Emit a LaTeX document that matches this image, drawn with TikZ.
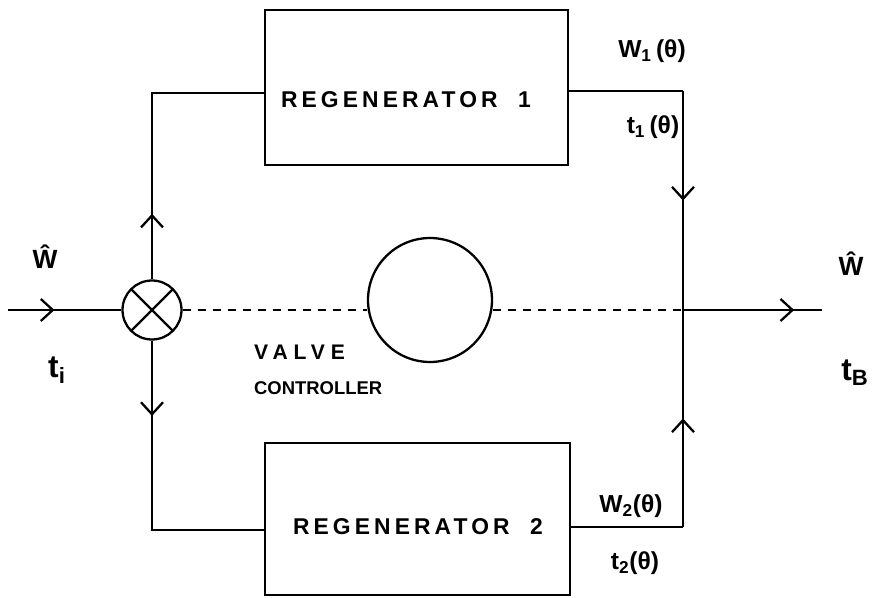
\documentclass[tikz,border=0pt]{standalone}
\usepackage{fontspec}
\setmainfont{Liberation Sans}
\newfontfamily\widefont[LetterSpace=18]{Liberation Sans}
\newfontfamily\widerfont[LetterSpace=28]{Liberation Sans}
\usetikzlibrary{positioning,arrows.meta,decorations.markings}

\tikzset{
  regbox/.style={draw, minimum width=6.06cm, minimum height=3.1cm},
  regtext/.style={font=\widefont\bfseries\fontsize{13}{15}\selectfont, inner sep=0pt},
  sumnode/.style={draw, circle, minimum size=1.18cm, inner sep=0pt,
    path picture={\draw (path picture bounding box.north west) -- (path picture bounding box.south east)
      (path picture bounding box.north east) -- (path picture bounding box.south west);}},
  valvenode/.style={draw, circle, minimum size=2.48cm, inner sep=0pt},
  ctrl/.style={dash pattern=on 0.16cm off 0.14cm},
  flowmark/.style={postaction={decorate}, decoration={markings,
    mark=at position #1 with {\arrow{Straight Barb[length=2.4mm,width=4.4mm]}}}},
  lbl/.style={font=\bfseries\fontsize{14}{16}\selectfont, inner sep=0pt},
  biglbl/.style={font=\bfseries\fontsize{18}{20}\selectfont, inner sep=0pt}
}

\begin{document}
\begin{tikzpicture}[x=0.02cm, y=-0.02cm, line width=1.3pt]
  \useasboundingbox (0,0) rectangle (877,598);

  % blocks
  \node[regbox] (reg1) at (416.5,87.5) {};
  \node[regbox, minimum width=6.1cm, minimum height=3.04cm] (reg2) at (417.5,519) {};
  \node[regtext] (reg1txt) at (406,99.5) {REGENERATOR\hspace{0.9em}1};
  \node[regtext] (reg2txt) at (418,527) {REGENERATOR\hspace{0.9em}2};
  \node[sumnode] (sum) at (152,310) {};
  \node[valvenode] (valve) at (430,300) {};

  % junction points
  \coordinate (in) at (8,310);
  \coordinate (up) at (152,93);
  \coordinate (down) at (152,530);
  \coordinate (j1) at (683,91);
  \coordinate (j2) at (683,527);
  \coordinate (merge) at (683,310);
  \coordinate (out) at (822,310);

  % flow lines
  \draw[flowmark=0.41] (in) -- (sum.west);
  \draw[flowmark=0.22] (sum.north) -- (up) -- (reg1.west |- up);
  \draw[flowmark=0.25] (sum.south) -- (down) -- (reg2.west |- down);
  \draw (reg1.east |- j1) -- (j1);
  \draw[flowmark=0.5] (j1) -- (merge);
  \draw (reg2.east |- j2) -- (j2);
  \draw[flowmark=0.5] (j2) -- (merge);
  \draw[flowmark=0.8] (merge) -- (out);

  % control signal
  \draw[ctrl] (sum.east) -- (sum.east -| valve.west);
  \draw[ctrl] (merge -| valve.east) -- (merge);

  % labels
  \node[lbl] (w1) at (652,51) {W\textsubscript{1}\,(θ)};
  \node[lbl] (t1) at (653,127) {t\textsubscript{1}\,(θ)};
  \node[lbl] (w2) at (631,506) {W\textsubscript{2}(θ)};
  \node[lbl] (t2) at (635,563) {t\textsubscript{2}(θ)};
  \node[lbl, font=\bfseries\fontsize{15}{17}\selectfont] (win) at (45,257) {Ŵ};
  \node[biglbl] (tin) at (57,370) {t\textsubscript{i}};
  \node[lbl, font=\bfseries\fontsize{15}{17}\selectfont] (wout) at (851,264) {Ŵ};
  \node[biglbl] (tout) at (855,373) {t\textsubscript{B}};
  \node[lbl, anchor=west, font=\widerfont\bfseries\fontsize{12}{14}\selectfont] (vlv) at (253,352) {VALVE};
  \node[lbl, anchor=west, font=\bfseries\fontsize{10.5}{13}\selectfont] (ctl) at (253,388) {CONTROLLER};
\end{tikzpicture}
\end{document}
